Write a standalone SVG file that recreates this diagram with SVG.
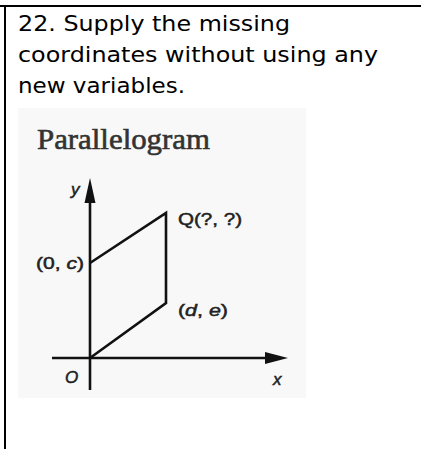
<svg xmlns="http://www.w3.org/2000/svg" width="421" height="449" viewBox="0 0 421 449">
<style>
.q{font-family:"Comic Sans MS","DejaVu Sans",sans-serif;font-size:21px;fill:#000}
.lb{font-family:"Liberation Sans",Arial,sans-serif;font-size:17px;fill:#222;stroke:#222;stroke-width:0.5}
.ax{stroke:#111;stroke-width:2.6;fill:none}
.pg{stroke:#111;stroke-width:2.6;fill:none;stroke-linejoin:miter}
</style>
<rect width="421" height="449" fill="#fff"/>
<g id="frame">
<line x1="0" y1="6" x2="421" y2="6" stroke="#000" stroke-width="2"/>
<line x1="5" y1="6" x2="5" y2="449" stroke="#000" stroke-width="2"/>
</g>
<g id="question">
<text class="q" x="18" y="31" textLength="272" lengthAdjust="spacingAndGlyphs">22. Supply the missing</text>
<text class="q" x="18" y="62" textLength="360" lengthAdjust="spacingAndGlyphs">coordinates without using any</text>
<text class="q" x="18" y="93" textLength="167" lengthAdjust="spacingAndGlyphs">new variables.</text>
</g>
<g id="figure">
<rect x="18" y="108" width="288" height="290" fill="#f8f8f8"/>
<text x="37" y="149" font-family="Liberation Serif,serif" font-size="30" fill="#333" stroke="#333" stroke-width="0.6" textLength="173" lengthAdjust="spacingAndGlyphs">Parallelogram</text>
</g>
<g id="connectors">
<line class="ax" x1="90" y1="200" x2="90" y2="390"/>
<polygon points="90,178 84.5,203 95.5,203" fill="#111"/>
<line class="ax" x1="52" y1="358" x2="268" y2="358"/>
<polygon points="288,358 265,352 265,364" fill="#111"/>
</g>
<g id="parallelogram">
<polyline class="pg" points="90,358 166,303 166,213 90,263"/>
</g>
<g id="labels">
<text class="lb" x="71" y="195" font-style="italic">y</text>
<text class="lb" x="178" y="225" textLength="64" lengthAdjust="spacingAndGlyphs">Q(?, ?)</text>
<text class="lb" x="36" y="269" textLength="48" lengthAdjust="spacingAndGlyphs">(0, <tspan font-style="italic">c</tspan>)</text>
<text class="lb" x="178" y="316" textLength="50" lengthAdjust="spacingAndGlyphs">(<tspan font-style="italic">d</tspan>, <tspan font-style="italic">e</tspan>)</text>
<text class="lb" x="65" y="383" font-style="italic">O</text>
<text class="lb" x="273" y="385" font-style="italic">x</text>
</g>
</svg>
